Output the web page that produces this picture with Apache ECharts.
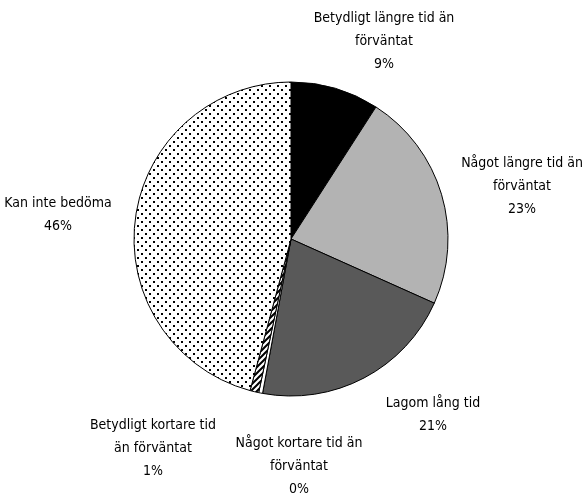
<!DOCTYPE html>
<html lang="sv">
<head>
<meta charset="UTF-8">
<title>Pie</title>
<script src="https://cdn.jsdelivr.net/npm/echarts@6.0.0/dist/echarts.min.js"></script>
<style>
  html, body { margin: 0; padding: 0; background: #fff; }
  #viz { width: 586px; height: 493px; }
</style>
</head>
<body>
<div id="viz"></div>
<script>
  const categories = [
    'Betydligt längre tid än\nförväntat',
    'Något längre tid än\nförväntat',
    'Lagom lång tid',
    'Något kortare tid än\nförväntat',
    'Betydligt kortare tid\nän förväntat',
    'Kan inte bedöma'
  ];
  const values = [9.1, 22.6, 21.2, 0.4, 0.9, 45.8];

  // label centres, same order as categories
  const labelPos = [[384, 41], [522, 186], [433, 415], [299, 466], [153, 448], [58, 215]];

  const font = "'DejaVu Sans Condensed', 'Liberation Sans Narrow', sans-serif";

  const makeDots = () => {
    const c = document.createElement('canvas');
    c.width = 8; c.height = 8;
    const ctx = c.getContext('2d');
    ctx.fillStyle = '#fff';
    ctx.fillRect(0, 0, 8, 8);
    ctx.fillStyle = '#000';
    ctx.fillRect(1, 1, 2, 2);
    ctx.fillRect(5, 5, 2, 2);
    return c;
  };

  const makeHatch = () => {
    const c = document.createElement('canvas');
    c.width = 6; c.height = 6;
    const ctx = c.getContext('2d');
    ctx.fillStyle = '#fff';
    ctx.fillRect(0, 0, 6, 6);
    ctx.strokeStyle = '#000';
    ctx.lineWidth = 2;
    ctx.beginPath();
    ctx.moveTo(-1, 7); ctx.lineTo(7, -1);
    ctx.moveTo(-4, 4); ctx.lineTo(4, -4);
    ctx.moveTo(2, 10); ctx.lineTo(10, 2);
    ctx.stroke();
    return c;
  };

  const fills = [
    '#000000',
    '#b3b3b3',
    '#595959',
    '#ffffff',
    { image: makeHatch(), repeat: 'repeat' },
    { image: makeDots(), repeat: 'repeat' }
  ];

  const data = categories.map((name, i) => ({
    name: name,
    value: values[i],
    itemStyle: { color: fills[i] }
  }));

  const chart = echarts.init(document.getElementById('viz'), null, { renderer: 'canvas' });

  chart.setOption({
    animation: false,
    series: [{
      type: 'pie',
      center: [291, 239],
      radius: 157,
      startAngle: 90,
      clockwise: true,
      avoidLabelOverlap: false,
      minShowLabelAngle: 0,
      itemStyle: { borderColor: '#000', borderWidth: 1 },
      label: {
        show: true,
        position: 'outside',
        color: '#000',
        fontFamily: font,
        fontSize: 14,
        lineHeight: 23,
        align: 'center',
        formatter: p => p.name + '\n' + Math.round(p.value) + '%'
      },
      labelLine: { show: false },
      labelLayout: p => ({
        x: labelPos[p.dataIndex][0],
        y: labelPos[p.dataIndex][1],
        align: 'center',
        verticalAlign: 'middle'
      }),
      emphasis: { disabled: true },
      data: data
    }]
  });
</script>
</body>
</html>
